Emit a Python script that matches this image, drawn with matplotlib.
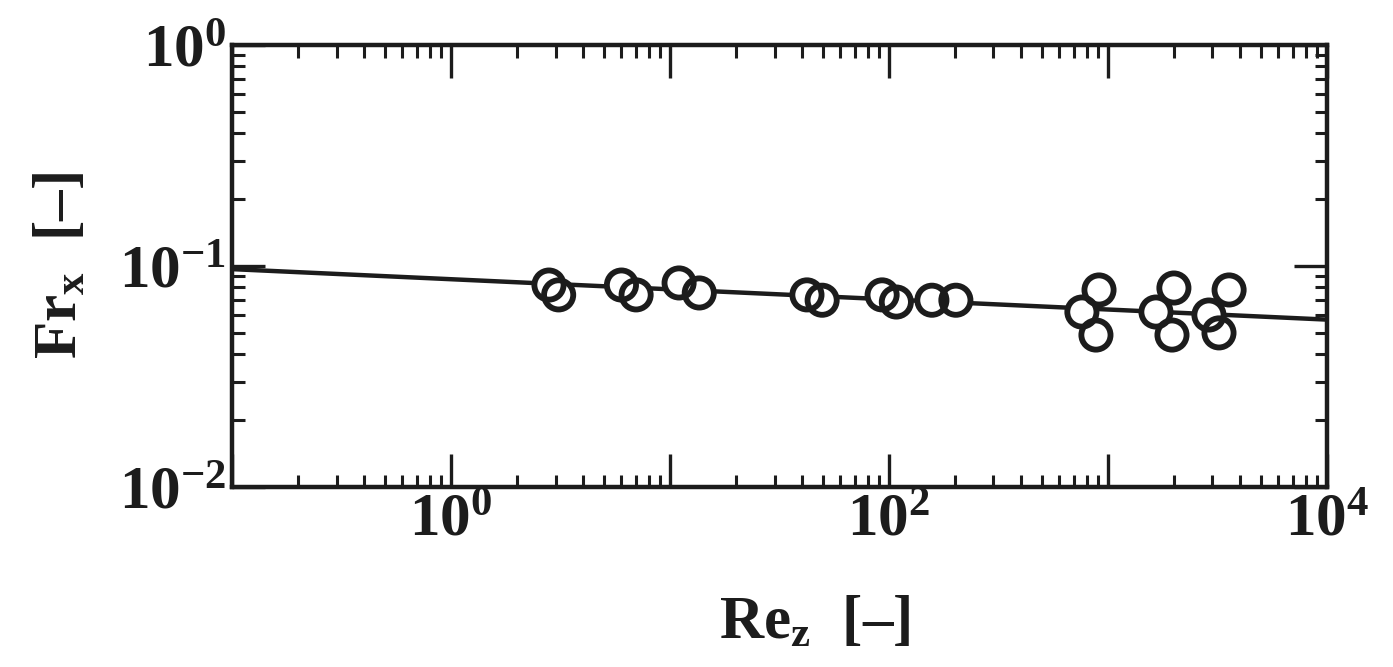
import matplotlib
matplotlib.use('Agg')
import matplotlib.pyplot as plt
from matplotlib.ticker import FixedLocator, FixedFormatter, LogLocator, NullFormatter
import numpy as np

re_pts = [2.8, 3.1, 6.0, 7.0, 11.0, 13.6, 42.2, 49.5, 93.0, 108.0, 157.0, 202.0,
          910.0, 760.0, 881.0, 2000.0, 1656.0, 1960.0, 3573.0, 2891.0, 3213.0]
fr_pts = [0.082, 0.074, 0.082, 0.074, 0.0838, 0.0755, 0.074, 0.070, 0.074, 0.0687, 0.070, 0.070,
          0.0779, 0.0619, 0.0487, 0.0795, 0.0619, 0.0487, 0.0779, 0.060, 0.0498]

# correlation line
re_fit = [0.1, 1e4]
fr_fit = [0.0968, 0.0572]

xticks = [1e-1, 1e0, 1e1, 1e2, 1e3, 1e4]
xticklabels = ['', r'$10^{0}$', '', r'$10^{2}$', '', r'$10^{4}$']
yticks = [1e-2, 1e-1, 1e0]
yticklabels = [r'$10^{-2}$', r'$10^{-1}$', r'$10^{0}$']

ink = '#1c1c1c'
plt.rcParams['font.family'] = 'Liberation Serif'
plt.rcParams['font.weight'] = 'bold'
plt.rcParams['axes.labelweight'] = 'bold'
plt.rcParams['mathtext.fontset'] = 'custom'
plt.rcParams['mathtext.rm'] = 'Liberation Serif:bold'
plt.rcParams['mathtext.it'] = 'Liberation Serif:bold'
plt.rcParams['mathtext.bf'] = 'Liberation Serif:bold'
plt.rcParams['mathtext.default'] = 'rm'

fig = plt.figure(figsize=(13.93, 6.67), dpi=100)
ax = fig.add_axes([0.1666, 0.2699, 0.7860, 0.6626])

ax.plot(re_fit, fr_fit, color=ink, lw=3.2, zorder=2)
ax.scatter(re_pts, fr_pts, s=21**2, facecolor='white', edgecolor='none', zorder=3)
ax.scatter(re_pts, fr_pts, s=21**2, facecolor='none', edgecolor=ink, linewidths=4.2, zorder=4)

ax.set_xscale('log')
ax.set_yscale('log')
ax.set_xlim(1e-1, 1e4)
ax.set_ylim(1e-2, 1e0)

ax.xaxis.set_major_locator(FixedLocator(xticks))
ax.xaxis.set_major_formatter(FixedFormatter(xticklabels))
ax.yaxis.set_major_locator(FixedLocator(yticks))
ax.yaxis.set_major_formatter(FixedFormatter(yticklabels))
ax.xaxis.set_minor_locator(LogLocator(base=10, subs=np.arange(2, 10)))
ax.yaxis.set_minor_locator(LogLocator(base=10, subs=np.arange(2, 10)))
ax.xaxis.set_minor_formatter(NullFormatter())
ax.yaxis.set_minor_formatter(NullFormatter())

ax.tick_params(which='both', direction='in', top=True, right=True, color=ink,
               labelcolor=ink, labelsize=44)
ax.tick_params(which='major', length=24, width=2.4, pad=4)
ax.tick_params(which='minor', length=9, width=2.2)
for s in ax.spines.values():
    s.set_linewidth(3.2)
    s.set_color(ink)

ax.set_xlabel(r'Re$_z$  [–]', fontsize=44, color=ink, fontweight='bold')
ax.set_ylabel(r'Fr$_x$  [–]', fontsize=44, color=ink, fontweight='bold')
ax.xaxis.set_label_coords(0.532, -0.245)
ax.yaxis.set_label_coords(-0.13, 0.5)

fig.savefig('out.png', dpi=100, facecolor='white')
